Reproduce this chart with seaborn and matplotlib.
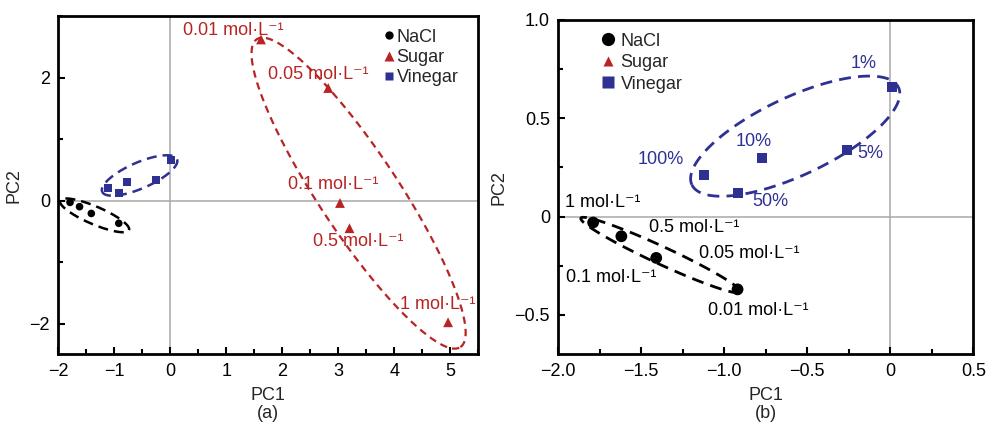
import numpy as np
import pandas as pd
import matplotlib
matplotlib.use('Agg')
import matplotlib.pyplot as plt
import seaborn as sns
from matplotlib.lines import Line2D
from matplotlib.ticker import MultipleLocator, FuncFormatter

# PCA scores
nacl_pc1 = [-1.79, -1.62, -1.41, -0.92]
nacl_pc2 = [-0.03, -0.10, -0.21, -0.37]
vinegar_pc1 = [0.01, -0.26, -0.77, -0.92, -1.12]
vinegar_pc2 = [0.66, 0.34, 0.30, 0.12, 0.21]
sugar_pc1 = [1.62, 2.82, 3.03, 3.20, 4.96]
sugar_pc2 = [2.62, 1.83, -0.04, -0.45, -1.98]

# concentration labels
sugar_labels = ['0.01 mol·L⁻¹', '0.05 mol·L⁻¹', '0.1 mol·L⁻¹',
                '0.5 mol·L⁻¹', '1 mol·L⁻¹']
sugar_label_x = [1.12, 2.64, 2.90, 3.36, 4.77]
sugar_label_y = [2.77, 2.05, 0.26, -0.67, -1.69]

vinegar_labels = ['1%', '5%', '10%', '50%', '100%']
vinegar_label_x = [-0.16, -0.12, -0.82, -0.72, -1.38]
vinegar_label_y = [0.78, 0.32, 0.38, 0.075, 0.29]

nacl_labels = ['1 mol·L⁻¹', '0.5 mol·L⁻¹', '0.05 mol·L⁻¹',
               '0.1 mol·L⁻¹', '0.01 mol·L⁻¹']
nacl_label_x = [-1.73, -1.18, -0.85, -1.68, -0.795]
nacl_label_y = [0.073, -0.057, -0.19, -0.312, -0.478]

groups = ['NaCl', 'Sugar', 'Vinegar']
colors = {'NaCl': 'black', 'Sugar': '#b82323', 'Vinegar': '#2e3192'}
markers = {'NaCl': 'o', 'Sugar': '^', 'Vinegar': 's'}


def make_frame(with_sugar):
    parts = [pd.DataFrame({'PC1': nacl_pc1, 'PC2': nacl_pc2, 'sample': 'NaCl'})]
    if with_sugar:
        parts.append(pd.DataFrame({'PC1': sugar_pc1, 'PC2': sugar_pc2,
                                   'sample': 'Sugar'}))
    parts.append(pd.DataFrame({'PC1': vinegar_pc1, 'PC2': vinegar_pc2,
                               'sample': 'Vinegar'}))
    return pd.concat(parts, ignore_index=True)


def enclosing_ellipse(ax, x, y, pad_major, pad_minor, color,
                      shift=(0, 0), lw=1.8, dash=(4.5, 2.6)):
    # ellipse around a group, built in screen pixels with its long axis
    # along the two points furthest apart (shift is a small pixel nudge)
    pts = ax.transData.transform(np.column_stack([x, y]))
    dist = np.linalg.norm(pts[:, None, :] - pts[None, :, :], axis=2)
    i, j = np.unravel_index(dist.argmax(), dist.shape)
    u1 = (pts[j] - pts[i]) / dist[i, j]
    u2 = np.array([-u1[1], u1[0]])
    centre = (pts[i] + pts[j]) / 2
    t = (pts - centre) @ u1
    s = (pts - centre) @ u2
    mid = centre + u1 * (t.max() + t.min()) / 2 + u2 * (s.max() + s.min()) / 2
    mid = mid + np.asarray(shift, dtype=float)
    a = (t.max() - t.min()) / 2 + pad_major
    b = (s.max() - s.min()) / 2 + pad_minor
    th = np.linspace(0, 2 * np.pi, 300)
    ring = mid + np.outer(a * np.cos(th), u1) + np.outer(b * np.sin(th), u2)
    ring = ax.transData.inverted().transform(ring)
    ax.plot(ring[:, 0], ring[:, 1], color=color, lw=lw,
            ls=(0, dash), zorder=1)


def fmt(v, pos, decimals):
    if abs(v) < 1e-9:
        return '0'
    return ('{:.%df}' % decimals).format(v).replace('-', '\u2212')


def style_axes(ax):
    for sp in ax.spines.values():
        sp.set_linewidth(2)
        sp.set_color('black')
    ax.tick_params(which='both', direction='in', top=False, right=False,
                   width=1.5, labelsize=13, colors='black', pad=6)
    ax.tick_params(which='major', length=5)
    ax.tick_params(which='minor', length=3.5)
    ax.axhline(0, color='#a8a8a8', lw=1.1, zorder=0)
    ax.axvline(0, color='#a8a8a8', lw=1.1, zorder=0)


sns.set_style('ticks')
plt.rcParams['font.family'] = ['Liberation Sans', 'DejaVu Sans']
plt.rcParams['font.size'] = 13

fig = plt.figure(figsize=(9.86, 4.23), dpi=100)
ax_a = fig.add_axes([0.0591, 0.1625, 0.4260, 0.7995])
ax_b = fig.add_axes([0.5662, 0.1625, 0.4209, 0.7903])

# ---- panel (a)
df_a = make_frame(True)
ax_a.set_xlim(-2, 5.5)
ax_a.set_ylim(-2.5, 3.0)
sns.scatterplot(data=df_a, x='PC1', y='PC2', hue='sample', style='sample',
                size='sample', sizes={'NaCl': 30, 'Sugar': 50, 'Vinegar': 34},
                palette=colors, markers=markers, hue_order=groups,
                edgecolor='none', legend=False, ax=ax_a, zorder=3)
style_axes(ax_a)
ax_a.xaxis.set_major_locator(MultipleLocator(1))
ax_a.xaxis.set_minor_locator(MultipleLocator(0.5))
ax_a.yaxis.set_major_locator(MultipleLocator(2))
ax_a.yaxis.set_minor_locator(MultipleLocator(1))
ax_a.xaxis.set_major_formatter(FuncFormatter(lambda v, p: fmt(v, p, 0)))
ax_a.yaxis.set_major_formatter(FuncFormatter(lambda v, p: fmt(v, p, 0)))
ax_a.set_xlim(-2, 5.5)
ax_a.set_ylim(-2.5, 3.0)

enclosing_ellipse(ax_a, sugar_pc1, sugar_pc2, 15, 10, colors['Sugar'],
                  shift=(4.5, -12), lw=1.6, dash=(3.3, 2.3))
enclosing_ellipse(ax_a, vinegar_pc1, vinegar_pc2, 6.3, 7, colors['Vinegar'],
                  shift=(-2, 3.8), dash=(4.0, 2.4))
enclosing_ellipse(ax_a, nacl_pc1, nacl_pc2, 11, 8, colors['NaCl'],
                  shift=(0.5, -1.7), dash=(4.0, 2.4))

for lab, lx, ly in zip(sugar_labels, sugar_label_x, sugar_label_y):
    ax_a.text(lx, ly, lab, color=colors['Sugar'], fontsize=13,
              ha='center', va='center', zorder=4)

ax_a.set_xlabel('PC1\n(a)', fontsize=13, linespacing=1.15, labelpad=5)
ax_a.set_ylabel('PC2', fontsize=13, labelpad=5)

# ---- panel (b)
df_b = make_frame(False)
ax_b.set_xlim(-2, 0.5)
ax_b.set_ylim(-0.7, 1.0)
sns.scatterplot(data=df_b, x='PC1', y='PC2', hue='sample', style='sample',
                size='sample', sizes={'NaCl': 72, 'Vinegar': 52},
                palette=colors, markers=markers, hue_order=['NaCl', 'Vinegar'],
                edgecolor='none', legend=False, ax=ax_b, zorder=3)
style_axes(ax_b)
ax_b.xaxis.set_major_locator(MultipleLocator(0.5))
ax_b.xaxis.set_minor_locator(MultipleLocator(0.25))
ax_b.yaxis.set_major_locator(MultipleLocator(0.5))
ax_b.yaxis.set_minor_locator(MultipleLocator(0.25))
ax_b.xaxis.set_major_formatter(FuncFormatter(lambda v, p: fmt(v, p, 1)))
ax_b.yaxis.set_major_formatter(FuncFormatter(lambda v, p: fmt(v, p, 1)))
ax_b.set_xlim(-2, 0.5)
ax_b.set_ylim(-0.7, 1.0)

enclosing_ellipse(ax_b, vinegar_pc1, vinegar_pc2, 10.5, 20, colors['Vinegar'],
                  shift=(-11, 12), lw=2.0, dash=(4.3, 2.6))
enclosing_ellipse(ax_b, nacl_pc1, nacl_pc2, 8.4, 6, colors['NaCl'],
                  shift=(-3.5, 3.4), lw=2.0, dash=(4.3, 2.6))

for lab, lx, ly in zip(vinegar_labels, vinegar_label_x, vinegar_label_y):
    ax_b.text(lx, ly, lab, color=colors['Vinegar'], fontsize=13,
              ha='center', va='center', zorder=4)
for lab, lx, ly in zip(nacl_labels, nacl_label_x, nacl_label_y):
    ax_b.text(lx, ly, lab, color='black', fontsize=13,
              ha='center', va='center', zorder=4)

ax_b.set_xlabel('PC1\n(b)', fontsize=13, linespacing=1.15, labelpad=5)
ax_b.set_ylabel('PC2', fontsize=13, labelpad=5)


# ---- legends
def legend_handles(ms):
    return [Line2D([], [], ls='', marker=markers[g], color=colors[g],
                   markeredgecolor='none', markersize=ms[g], label=g)
            for g in groups]


ax_a.legend(handles=legend_handles({'NaCl': 6, 'Sugar': 7, 'Vinegar': 6}),
            loc='upper right', bbox_to_anchor=(0.983, 1.0), frameon=False,
            fontsize=13, handlelength=0.5, handletextpad=0.15,
            labelspacing=0.18, borderaxespad=0.3)
ax_b.legend(handles=legend_handles({'NaCl': 9.5, 'Sugar': 7, 'Vinegar': 8}),
            loc='upper left', bbox_to_anchor=(0.072, 1.0), frameon=False,
            fontsize=13, handlelength=0.8, handletextpad=0.3,
            labelspacing=0.25, borderaxespad=0.3)

fig.savefig('out.png', dpi=100)
